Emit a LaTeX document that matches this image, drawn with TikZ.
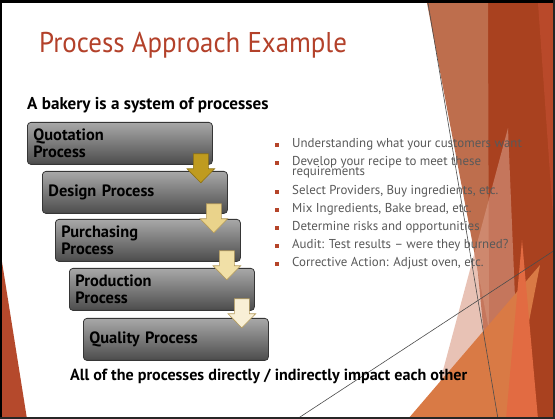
\documentclass[tikz,border=0pt]{standalone}
\usepackage{fontspec}
\usetikzlibrary{calc}
\setmainfont{PT Sans}
\definecolor{titlered}{HTML}{B3412A}
\definecolor{bulletred}{HTML}{B5452A}
\definecolor{bodygray}{HTML}{595959}
\definecolor{boxtop}{HTML}{A8A8A8}
\definecolor{boxbot}{HTML}{4C4C4C}
\definecolor{boxline}{HTML}{363636}
\definecolor{darkred}{HTML}{A9411F}
\definecolor{brightred}{HTML}{B9492A}
\definecolor{lightbrown}{HTML}{BE6E4D}
\definecolor{palepink}{HTML}{D99A85}
\definecolor{orangeA}{HTML}{D97A45}
\definecolor{orangeB}{HTML}{E26B42}
\definecolor{leftred}{HTML}{B5492C}
\definecolor{arA}{HTML}{BF9B1F}
\definecolor{arAl}{HTML}{8C7012}
\definecolor{arB}{HTML}{EAD38B}
\definecolor{arC}{HTML}{F1E0A7}
\definecolor{arD}{HTML}{F8EFD6}
\definecolor{arl}{HTML}{B49A5A}
\tikzset{
  pbox/.style={draw=boxline, line width=0.8pt, rounded corners=3.5pt,
    top color=boxtop, bottom color=boxbot, minimum width=185pt,
    minimum height=42pt, text width=173pt, inner xsep=6pt, align=left,
    font=\fontsize{16.4}{17}\selectfont\bfseries, text=black, anchor=north west},
  bullettext/.style={anchor=base west, inner sep=0pt, text=bodygray,
    font=\fontsize{12.9}{13}\selectfont},
  bulletsq/.style={fill=bulletred, minimum size=3.2pt, inner sep=0pt},
  thinline/.style={draw=black!70, line width=0.6pt},
  pics/downarrow/.style n args={2}{code={
    \draw[fill=#1, draw=#2, line width=0.6pt, line join=miter]
      (-7.5,0) -- (7.5,0) -- (7.5,15) -- (13.8,15) -- (0,29) -- (-13.8,15) -- (-7.5,15) -- cycle;
  }}
}
\begin{document}
\begin{tikzpicture}[x=1pt,y=-1pt]
\useasboundingbox (0,0) rectangle (555,419);
\fill[white] (0,0) rectangle (555,419);
% right decoration
\fill[darkred] (452,3) -- (555,3) -- (555,419) -- (492,419) -- cycle;
\fill[brightred] (538,3) -- (555,3) -- (555,245) -- cycle;
\fill[lightbrown] (427,3) -- (488,3) -- (489,330) -- cycle;
\fill[palepink, opacity=0.6] (430,419) -- (508,128) -- (520,419) -- cycle;
\fill[orangeA] (408,419) -- (540,265) -- (510,419) -- cycle;
\fill[orangeB] (506,419) -- (522,240) -- (538,419) -- cycle;
% left decoration
\fill[leftred] (2,262) -- (27,419) -- (2,419) -- cycle;
% thin lines
\coordinate (la) at (428,3);
\coordinate (lb) at (498,419);
\coordinate (lc) at (297,419);
\coordinate (ld) at (555,250);
\draw[thinline] (la) -- (lb);
\draw[thinline] (lc) -- (ld);
% title
\node[anchor=base west, inner sep=0pt, text=titlered, font=\fontsize{28.6}{28.6}\selectfont] (title) at (39,53) {\scalebox{0.94}[1]{Process Approach Example}};
\node[anchor=base west, inner sep=0pt, font=\fontsize{17.1}{17}\selectfont\bfseries] (head) at (27,110) {A bakery is a system of processes};
% boxes
\node[pbox] (q) at (27,122) {Quotation\\Process};
\node[pbox] (d) at (42,171) {Design Process};
\node[pbox] (p) at (55,219) {Purchasing\\Process};
\node[pbox] (r) at (69,268) {Production\\Process};
\node[pbox] (u) at (83,318) {Quality Process};
% arrows
\pic at ($(q.south east)+(-12,-11)$) {downarrow={arA}{arAl}};
\pic at ($(d.south east)+(-14,-10)$) {downarrow={arB}{arl}};
\pic at ($(p.south east)+(-14,-11)$) {downarrow={arC}{arl}};
\pic at ($(r.south east)+(-13,-12)$) {downarrow={arD}{arl}};
% bullets
\foreach \n/\yy in {1/145, 2/163, 3/192, 4/210, 5/228, 6/246, 7/264}{
  \node[bulletsq] (sq\n) at (277,\yy) {};
}
\node[bullettext] (t1) at (292,148) {Understanding what your customers want};
\node[bullettext] (t2) at (292,165.5) {Develop your recipe to meet these};
\node[bullettext] (t2b) at (292,175.5) {requirements};
\node[bullettext] (t3) at (292,195) {Select Providers, Buy ingredients, etc.};
\node[bullettext] (t4) at (292,213) {Mix Ingredients, Bake bread, etc.};
\node[bullettext] (t5) at (292,231) {Determine risks and opportunities};
\node[bullettext] (t6) at (292,249) {Audit: Test results – were they burned?};
\node[bullettext] (t7) at (292,267) {Corrective Action: Adjust oven, etc.};
% bottom text
\node[anchor=base west, inner sep=0pt, font=\fontsize{16.1}{16}\selectfont\bfseries] (foot) at (70,381) {All of the processes directly / indirectly impact each other};
% frame
\fill[black] (0,0) rectangle (555,3);
\fill[black] (0,0) rectangle (2,419);
\fill[black!85] (553,0) rectangle (555,419);
\fill[black!85] (0,417) rectangle (555,419);
\end{tikzpicture}
\end{document}
